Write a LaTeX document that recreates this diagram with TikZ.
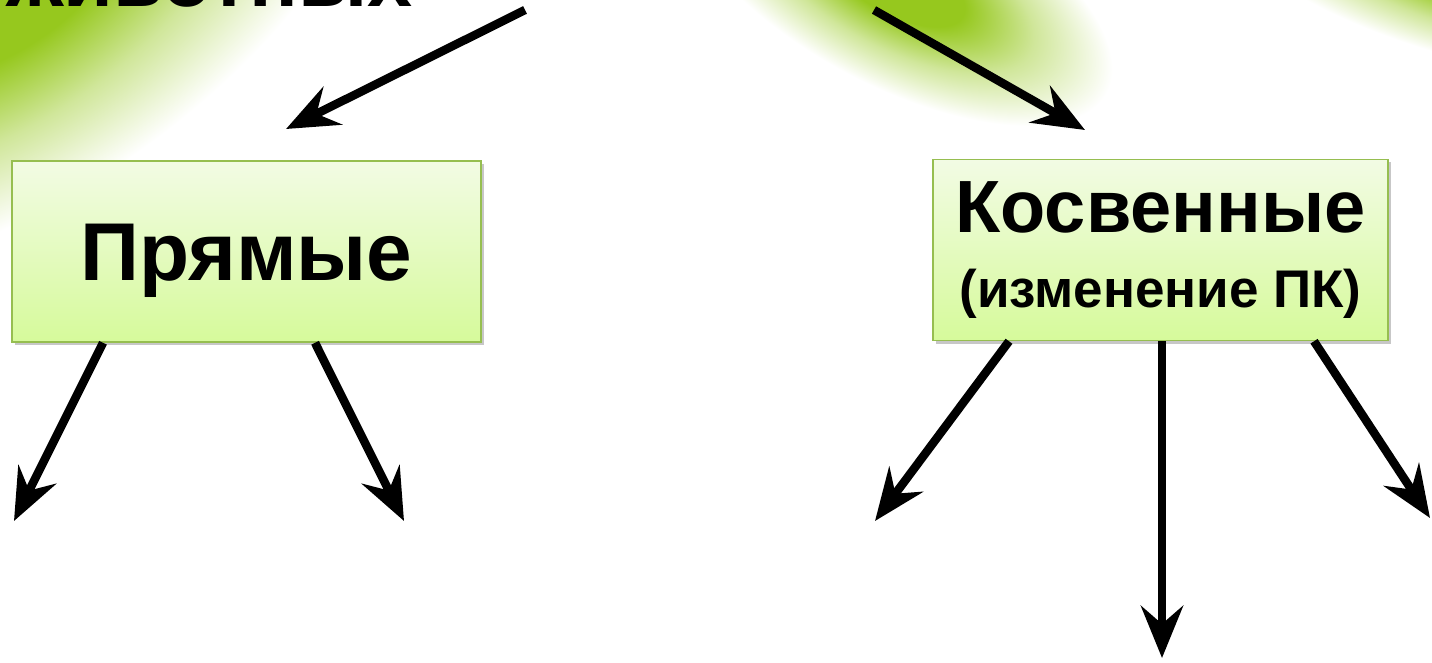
\documentclass[tikz,border=0pt]{standalone}
\usepackage{fontspec}
\setmainfont{Liberation Sans}
\usetikzlibrary{arrows.meta,shadows}
\definecolor{ygreen}{RGB}{150,200,30}
\definecolor{boxtop}{RGB}{242,251,228}
\definecolor{boxbot}{RGB}{214,250,155}
\definecolor{boxline}{RGB}{150,190,80}
\pgfdeclareradialshading{glowshade}{\pgfpointorigin}{color(0bp)=(ygreen); color(8bp)=(ygreen); color(16bp)=(ygreen!45); color(25bp)=(white); color(50bp)=(white)}
\begin{document}
\begin{tikzpicture}[x=1pt,y=-1pt,
  box/.style={draw=boxline, line width=1.5pt, top color=boxtop, bottom color=boxbot,
    drop shadow={shadow xshift=3pt,shadow yshift=-3pt,opacity=0.22,fill=black},
    font=\bfseries, inner sep=0pt, align=center},
  arr/.style={line width=8.5pt, -{Stealth[length=52pt,width=42pt,inset=18pt]}},
  glow/.style={shading=glowshade}
]
\useasboundingbox (0,0) rectangle (1432,663);
\clip (0,0) rectangle (1432,663);
\fill[white] (0,0) rectangle (1432,663);
% background glows
\begin{scope}[transform canvas={rotate around={34:(0,-20)}}]
  \shade[glow] (0,-20) ellipse [x radius=440, y radius=220];
\end{scope}
\begin{scope}[transform canvas={rotate around={-28:(895,-20)}}]
  \shade[glow] (895,-20) ellipse [x radius=240, y radius=105];
\end{scope}
\begin{scope}[transform canvas={rotate around={-15:(1475,-25)}}]
  \shade[glow] (1475,-25) ellipse [x radius=260, y radius=85];
\end{scope}
% title (cut off at top)
\node[font=\bfseries\fontsize{81}{96}\selectfont, anchor=base west, inner sep=0pt] (title) at (6,7) {животных};
% boxes
\node[box, minimum width=469pt, minimum height=181pt, text height=57pt, text depth=0pt,
      font=\bfseries\fontsize{82}{88}\selectfont] (p) at (246.5,251.5) {Прямые};
\node[box, minimum width=455pt, minimum height=181pt,
      font=\bfseries\fontsize{74}{75}\selectfont] (k) at (1160.5,250)
      {Косвенные\\{\fontsize{53}{75}\selectfont (изменение ПК)}};
% free ends
\coordinate (a1) at (525,10);
\coordinate (a2) at (286,129);
\coordinate (b1) at (874,10);
\coordinate (b2) at (1085,130);
\coordinate (p1) at (14,521);
\coordinate (p2) at (404,521);
\coordinate (k1) at (875,521);
\coordinate (k2) at (1162,658);
\coordinate (k3) at (1430,518);
% arrows
\draw[arr] (a1) -- (a2);
\draw[arr] (b1) -- (b2);
\draw[arr] ([xshift=-143.5pt]p.south) -- (p1);
\draw[arr] ([xshift=68.5pt]p.south) -- (p2);
\draw[arr] ([xshift=-151.5pt]k.south) -- (k1);
\draw[arr] ([xshift=1.5pt]k.south) -- (k2);
\draw[arr] ([xshift=153.5pt]k.south) -- (k3);
\end{tikzpicture}
\end{document}
